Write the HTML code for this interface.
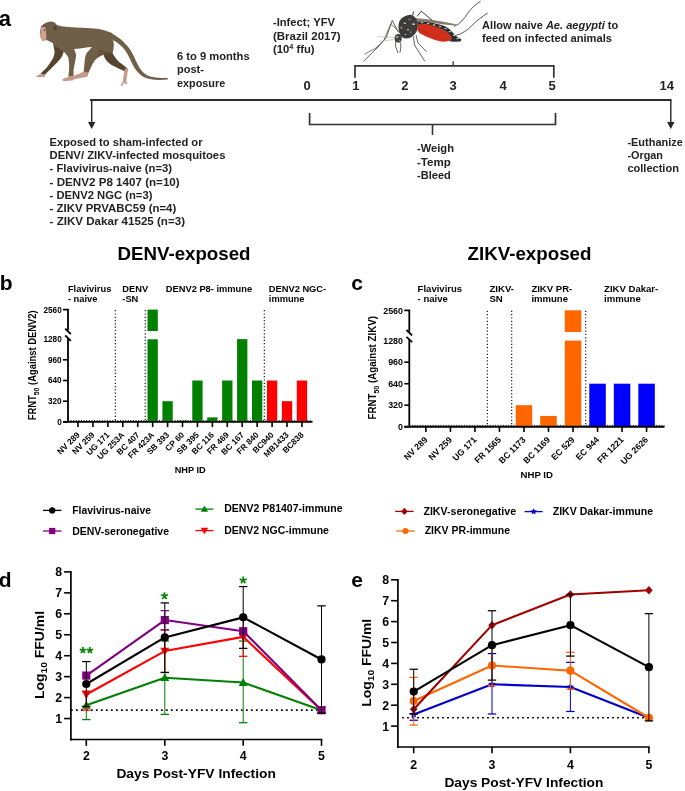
<!DOCTYPE html>
<html><head><meta charset="utf-8"><style>
html,body{margin:0;padding:0;background:#fff;}
svg{display:block;will-change:transform;}
text{font-family:"Liberation Sans",sans-serif;}
</style></head><body>
<svg width="685" height="791" viewBox="0 0 685 791">
<path d="M103.5,53 L112.1,52.3 C114,56 117,60.5 120,62.8 C123,65 126,67 128.2,69.4 L125.3,71.5 C121,69.5 116,67.5 112,65.3 C108,62.5 105,59.5 103.9,56 Z" fill="#56442f"/>
<path d="M125,68.3 L128.2,69.2 C127.5,73 126.6,78 126.4,82 L127.4,84 L125.8,84.3 L124.3,82.6 L122,85.9 L120.6,85.6 L122.8,81.5 C123.4,77 124,72 125,68.3 Z" fill="#c49a89"/>
<path d="M110,32.5 C117,35.5 123,41 127.8,46.4 C131,50 133.5,55 136,61 C139,67.5 142,72.5 147,75.2 C152,77.5 158,77.9 167.8,78 L167.8,79.5 C158,80.3 150,80 144.8,77.6 C139,74.6 135.5,70 132.6,64.5 C130,59 128,54 124.5,49.5 C121,45 117,42 113,40.2 Z" fill="#6f5e48"/>
<path d="M93.2,45.6 L113,47 L113,52.1 C108,53.3 105.5,54 103.9,54.6 C100.5,55.8 97.5,57.5 95.7,59.5 C93.6,62 92.5,64 91.6,66.1 C90.2,69 89,71.5 87.8,74.3 L83.6,73.2 C84,69 84.4,64 85,57.9 C85.8,54.5 86.8,52.5 88.3,51.3 Z" fill="#6f5e48"/>
<path d="M100,46.5 C106,47.3 110.5,48.5 113,50.5 L112.6,52.6 C108,53.4 105.5,54 103.9,54.6 C101,55.4 99,56.5 97.2,57.8 C98,54 99,50 100,46.5 Z" fill="#65533e"/>
<path d="M84,71.6 L87.8,72.6 L88.2,75.4 L86.7,77 C82,77.8 77,78.8 73.5,79.3 L72.6,77.6 C74,75.6 76,74.6 78,74.3 Z" fill="#c49a89"/>
<path d="M53,43 L64.2,50 C63.3,53.8 62.3,56 61.3,57.5 C59.6,60 58.2,61.5 56.9,62.8 C54.5,65.4 52.2,67.5 49.9,69.8 C48,71.6 46.5,73.2 44.9,74.9 L40.3,74.3 C42,72 44,70 46.4,68 C49,64.6 51,61.6 52.5,59.3 C53.8,56.5 54.5,54 54.6,51.4 Z" fill="#56442f"/>
<path d="M40.2,73.9 L45.2,74.5 L44.8,76.9 L40.3,77.3 L36.1,76.9 L36.6,75.9 Z" fill="#c49a89"/>
<path d="M50.8,21.4 C53.5,21.4 55.8,23 56.9,25 L61.3,26.3 C66,27 71,27.4 76.2,27.6 C83,28 90,28.3 97.3,28.7 C101,29.3 104,30 105.6,30.8 C108,31.5 110.5,32.3 112.1,33.2 L113,40.2 C113.6,42 114,44 113.8,45.6 C113.7,47.5 113.5,49 113.4,49.7 L112.1,52.8 C106,52 100,49 91,47 C87,47.3 85,47.5 84,47.9 C81,48.2 78,48.5 76.2,48.8 L63.9,51.4 L53.4,45 L53.4,43.4 C51,42 48.5,40.8 46.4,39.9 L42.4,40.8 L39.8,35.5 C40,32 40.5,29 41.1,26.3 C43.5,23.5 47,21.6 50.8,21.4 Z" fill="#6f5e48"/>
<path d="M63.5,50.6 L73.5,48.3 C75,51 76,53.5 76.2,55.8 C75.8,58 75.3,60.5 74.8,62.8 C74.3,65.5 73.8,68 73.5,70.6 L73.6,76.8 L68.3,76.6 C68.8,73 69.2,69.5 69.2,66.3 C69,63 68.8,60 68.3,57.5 C67,55 65.5,53 63.5,51.4 Z" fill="#6f5e48"/>
<path d="M68.3,76.3 L73.6,76.3 L73.9,80.3 L63.9,81.3 L62,79.9 C63.5,78.3 65.5,77.5 68.3,77.2 Z" fill="#c49a89"/>
<path d="M41.4,27.3 C43,26.9 44.5,27.1 45.6,28 C46,31 46.3,34.5 46.4,39.4 L42.6,40.8 C41.6,39.5 41,38.2 40.5,37.1 L39.8,35.5 C40,34.1 40.4,33.1 40.7,32.3 C40.8,30.5 41,28.9 41.4,27.3 Z" fill="#cfa392"/>
<circle cx="44.3" cy="30.3" r="0.75" fill="#3a2a20"/>
<ellipse cx="55.1" cy="28.3" rx="1.7" ry="2.8" fill="#56452f"/>
<path d="M454,26.5 C460,24 464,19 468,13 C472,7.5 476,4 480.5,1.3" fill="none" stroke="#3a3a3a" stroke-width="0.85"/>
<path d="M455,35.8 C462,34 467,30.5 472,25.5 C477,20.5 482,16.5 487.8,13" fill="none" stroke="#3a3a3a" stroke-width="0.85"/>
<path d="M398.4,32.4 L392.3,20.5 L386.2,37.7 L378,47 L363.5,61.3" fill="none" stroke="#3a3a3a" stroke-width="0.8"/>
<path d="M404.3,37.1 L390.8,23.7 L384,40 L376,48 L364.4,54.3" fill="none" stroke="#6b5a4a" stroke-width="0.8"/>
<path d="M394,37.5 L377,36.6 M394,39.5 L379,41.5" fill="none" stroke="#aaa" stroke-width="0.6"/>
<path d="M396,39 L395.5,46 L398,53 M399,39 L401,46 L400,52.5" fill="none" stroke="#3a3a3a" stroke-width="0.8"/>
<path d="M413.5,36 L414.5,45 L424.8,61.3 M416,35 L418,43 L426.6,51.7" fill="none" stroke="#3a3a3a" stroke-width="0.8"/>
<path d="M412.8,15.5 L413.4,11.5 M417.2,16.4 L421.2,11.2 L433.3,21.2" fill="none" stroke="#3a3a3a" stroke-width="1.0"/>
<path d="M417,21.5 C424,20.5 430,22 434.1,23.3 C438,24.3 441.5,25 444.5,26 C447,27.5 449,28.5 450.2,29.8 C452,31.5 453.5,33.5 455,35.2 C457,37 459,38.3 461.6,39.5 L460.5,41.5 L454,41.8 L449,41.3 L451.5,38.6 C451,37.3 450.5,36.5 450,35.7 C448.5,33.5 446,31.8 442,29.6 C438,27.8 433,26.3 426,24.6 L418,25 Z" fill="#2f2f2f"/>
<ellipse cx="422" cy="22.6" rx="1.3" ry="0.7" fill="#d8d8d8"/>
<ellipse cx="428" cy="23.6" rx="1.3" ry="0.7" fill="#d8d8d8"/>
<ellipse cx="434" cy="25" rx="1.3" ry="0.7" fill="#d8d8d8"/>
<ellipse cx="440" cy="26.6" rx="1.3" ry="0.7" fill="#d8d8d8"/>
<ellipse cx="445.5" cy="28.6" rx="1.3" ry="0.7" fill="#d8d8d8"/>
<ellipse cx="450" cy="31.6" rx="1.3" ry="0.7" fill="#d8d8d8"/>
<ellipse cx="454" cy="35.4" rx="1.3" ry="0.7" fill="#d8d8d8"/>
<ellipse cx="457.5" cy="38.6" rx="1.3" ry="0.7" fill="#d8d8d8"/>
<path d="M418,24.6 C421,24 424,23.9 426,24 C429,24.5 431.5,25.3 434.1,26.2 C437,27.2 440,28.2 442.1,29.4 C444.5,30.6 446.5,31.5 447.8,32.6 C449,33.6 449.8,34.6 450.3,35.8 C451,37 451.5,38 451.8,38.9 C450.5,40 449.2,40.8 447.8,41.3 C446,41.7 444,41.8 442.1,41.7 C439,41.2 436.5,40.5 434.1,39.7 C431,38.5 428.5,37.6 426,36.5 C423.5,35.4 421.5,34.4 419.6,33.3 C418.5,32 417.6,30.5 417.2,29.3 C417.2,27.5 417.5,26 418,24.6 Z" fill="#d1301d"/>
<path d="M420,30 C428,33 436,37 447,40" fill="none" stroke="#b02418" stroke-width="0.5"/>
<path d="M414.8,18 L430,19.5 L445,22 L456,24.3 L455.5,25.6 L444,24.6 L430,22.5 L415,20.6 Z" fill="#7d6e60" opacity="0.9"/>
<path d="M399.5,21 C401.5,17.5 405.5,15.2 409.8,14.8 C413.5,15 416.2,17.5 417.4,21.5 C418.2,25 417.8,28.8 416.6,31.5 C414.8,34.8 412.2,37 409.5,38 C407,38.8 404.5,38.6 402.5,37.5 C400.2,35.5 398.8,32 398.5,28.5 C398.4,25.5 398.7,23 399.5,21 Z" fill="#3b3b3b"/>
<ellipse cx="404.8" cy="23.2" rx="1.3" ry="0.8" fill="#d0d0d0"/>
<ellipse cx="413.6" cy="24.2" rx="1.4" ry="0.9" fill="#d0d0d0"/>
<ellipse cx="408" cy="29.8" rx="1.0" ry="0.7" fill="#d0d0d0"/>
<ellipse cx="401.3" cy="27.8" rx="0.6" ry="1.0" fill="#d0d0d0"/>
<ellipse cx="410.8" cy="32" rx="0.9" ry="0.6" fill="#d0d0d0"/>
<ellipse cx="405.5" cy="34.5" rx="0.8" ry="0.6" fill="#d0d0d0"/>
<ellipse cx="409.5" cy="19.5" rx="0.8" ry="0.5" fill="#d0d0d0"/>
<path d="M410.6,16 L411,37.5" stroke="#5a4a3c" stroke-width="0.6"/>
<ellipse cx="398.2" cy="38.3" rx="3.6" ry="4.3" fill="#404040"/>
<ellipse cx="397.2" cy="37" rx="1.2" ry="1.0" fill="#b8b8b8"/>
<ellipse cx="399.5" cy="40.5" rx="0.8" ry="0.6" fill="#9a9a9a"/>
<text x="-1.2" y="25.8" font-size="22" font-weight="bold" text-anchor="start" fill="#000" >a</text>
<line x1="90" y1="100.0" x2="671.5" y2="100.0" stroke="#2c2c2c" stroke-width="2.0" />
<line x1="91.7" y1="100" x2="91.7" y2="123" stroke="#262626" stroke-width="1.4" />
<polygon points="88,122 95.4,122 91.7,129" fill="#262626"/>
<line x1="670.8" y1="100" x2="670.8" y2="123" stroke="#262626" stroke-width="1.4" />
<polygon points="667.1,122 674.5,122 670.8,129" fill="#262626"/>
<polyline points="355,77.8 355,65.9 553.8,65.9 553.8,77.8" fill="none" stroke="#333" stroke-width="1.7"/>
<line x1="453.2" y1="61.3" x2="453.2" y2="65.8" stroke="#333" stroke-width="1.3" />
<polyline points="309.6,112.9 309.6,124.5 555.5,124.5 555.5,112.9" fill="none" stroke="#333" stroke-width="1.7"/>
<line x1="432.5" y1="124.5" x2="432.5" y2="135" stroke="#333" stroke-width="1.6" />
<text x="307" y="89.6" font-size="13" font-weight="bold" text-anchor="middle" fill="#222" >0</text>
<text x="355.8" y="89.6" font-size="13" font-weight="bold" text-anchor="middle" fill="#222" >1</text>
<text x="404.8" y="89.6" font-size="13" font-weight="bold" text-anchor="middle" fill="#222" >2</text>
<text x="453.2" y="89.6" font-size="13" font-weight="bold" text-anchor="middle" fill="#222" >3</text>
<text x="503" y="89.6" font-size="13" font-weight="bold" text-anchor="middle" fill="#222" >4</text>
<text x="552" y="89.6" font-size="13" font-weight="bold" text-anchor="middle" fill="#222" >5</text>
<text x="666.7" y="89.6" font-size="13" font-weight="bold" text-anchor="middle" fill="#222" >14</text>
<text x="177" y="59.9" font-size="10.8" font-weight="bold" text-anchor="start" fill="#222" textLength="72.6" lengthAdjust="spacingAndGlyphs" >6 to 9 months</text>
<text x="177" y="73.3" font-size="10.8" font-weight="bold" text-anchor="start" fill="#222" textLength="26.9" lengthAdjust="spacingAndGlyphs" >post-</text>
<text x="177" y="86.9" font-size="10.8" font-weight="bold" text-anchor="start" fill="#222" textLength="48.2" lengthAdjust="spacingAndGlyphs" >exposure</text>
<text x="272.9" y="26.4" font-size="10.8" font-weight="bold" text-anchor="start" fill="#222" textLength="62.2" lengthAdjust="spacingAndGlyphs" >-Infect; YFV</text>
<text x="272.9" y="39.8" font-size="10.8" font-weight="bold" text-anchor="start" fill="#222" textLength="67.8" lengthAdjust="spacingAndGlyphs" >(Brazil 2017)</text>
<text x="272.9" y="53.2" font-size="10.8" font-weight="bold" fill="#222" textLength="41.7" lengthAdjust="spacingAndGlyphs">(10<tspan font-size="7" dy="-4.3">4</tspan><tspan dy="4.3"> ffu)</tspan></text>
<text x="482.1" y="28.7" font-size="10.8" font-weight="bold" fill="#222" textLength="136.2" lengthAdjust="spacingAndGlyphs">Allow naive <tspan font-style="italic">Ae. aegypti</tspan> to</text>
<text x="482.1" y="42" font-size="10.8" font-weight="bold" text-anchor="start" fill="#222" textLength="129.9" lengthAdjust="spacingAndGlyphs" >feed on infected animals</text>
<text x="417" y="152.4" font-size="10.8" font-weight="bold" text-anchor="start" fill="#222" textLength="37" lengthAdjust="spacingAndGlyphs" >-Weigh</text>
<text x="417" y="165.85" font-size="10.8" font-weight="bold" text-anchor="start" fill="#222" textLength="33.8" lengthAdjust="spacingAndGlyphs" >-Temp</text>
<text x="417" y="179.3" font-size="10.8" font-weight="bold" text-anchor="start" fill="#222" textLength="33.8" lengthAdjust="spacingAndGlyphs" >-Bleed</text>
<text x="627.4" y="145.5" font-size="10.8" font-weight="bold" text-anchor="start" fill="#222" textLength="55.4" lengthAdjust="spacingAndGlyphs" >-Euthanize</text>
<text x="627.4" y="158.8" font-size="10.8" font-weight="bold" text-anchor="start" fill="#222" textLength="35.5" lengthAdjust="spacingAndGlyphs" >-Organ</text>
<text x="627.4" y="172.4" font-size="10.8" font-weight="bold" text-anchor="start" fill="#222" textLength="51.5" lengthAdjust="spacingAndGlyphs" >collection</text>
<text x="49.6" y="145.8" font-size="10.8" font-weight="bold" text-anchor="start" fill="#222" textLength="152.9" lengthAdjust="spacingAndGlyphs" >Exposed to sham-infected or</text>
<text x="49.6" y="159.05" font-size="10.8" font-weight="bold" text-anchor="start" fill="#222" textLength="175.8" lengthAdjust="spacingAndGlyphs" >DENV/ ZIKV-infected mosquitoes</text>
<text x="49.6" y="172.3" font-size="10.8" font-weight="bold" text-anchor="start" fill="#222" textLength="122.5" lengthAdjust="spacingAndGlyphs" >- Flavivirus-naive (n=3)</text>
<text x="49.6" y="185.55" font-size="10.8" font-weight="bold" text-anchor="start" fill="#222" textLength="130.1" lengthAdjust="spacingAndGlyphs" >- DENV2 P8 1407 (n=10)</text>
<text x="49.6" y="198.8" font-size="10.8" font-weight="bold" text-anchor="start" fill="#222" textLength="102.8" lengthAdjust="spacingAndGlyphs" >- DENV2 NGC (n=3)</text>
<text x="49.6" y="212.05" font-size="10.8" font-weight="bold" text-anchor="start" fill="#222" textLength="126.6" lengthAdjust="spacingAndGlyphs" >- ZIKV PRVABC59 (n=4)</text>
<text x="49.6" y="225.3" font-size="10.8" font-weight="bold" text-anchor="start" fill="#222" textLength="135.4" lengthAdjust="spacingAndGlyphs" >- ZIKV Dakar 41525 (n=3)</text>
<text x="117.5" y="260" font-size="18" font-weight="bold" text-anchor="start" fill="#000" textLength="133" lengthAdjust="spacingAndGlyphs" >DENV-exposed</text>
<text x="-0.3" y="289.9" font-size="21" font-weight="bold" text-anchor="start" fill="#000" >b</text>
<text x="67.89999999999999" y="291.5" font-size="9.3" font-weight="bold" text-anchor="start" fill="#000" >Flavivirus</text>
<text x="67.89999999999999" y="302.3" font-size="9.3" font-weight="bold" text-anchor="start" fill="#000" >- naive</text>
<text x="122.3" y="291.5" font-size="9.3" font-weight="bold" text-anchor="start" fill="#000" >DENV</text>
<text x="122.3" y="302.3" font-size="9.3" font-weight="bold" text-anchor="start" fill="#000" >-SN</text>
<text x="165.79999999999998" y="291.5" font-size="9.3" font-weight="bold" text-anchor="start" fill="#000" >DENV2 P8- immune</text>
<text x="268.8" y="291.5" font-size="9.3" font-weight="bold" text-anchor="start" fill="#000" >DENV2 NGC-</text>
<text x="268.8" y="302.3" font-size="9.3" font-weight="bold" text-anchor="start" fill="#000" >immune</text>
<line x1="68" y1="420.59999999999997" x2="312.5" y2="420.59999999999997" stroke="#000" stroke-width="1.0" stroke-dasharray="1,1.6"/>
<rect x="147.50" y="309.60" width="10.3" height="21.40" fill="#008000"/>
<rect x="147.50" y="339.30" width="10.3" height="82.60" fill="#008000"/>
<rect x="162.43" y="401.20" width="10.3" height="20.70" fill="#008000"/>
<rect x="177.36" y="420.61" width="10.3" height="1.29" fill="#008000"/>
<rect x="192.29" y="380.50" width="10.3" height="41.40" fill="#008000"/>
<rect x="207.22" y="417.37" width="10.3" height="4.53" fill="#008000"/>
<rect x="222.15" y="380.50" width="10.3" height="41.40" fill="#008000"/>
<rect x="237.08" y="339.10" width="10.3" height="82.80" fill="#008000"/>
<rect x="252.01" y="380.50" width="10.3" height="41.40" fill="#008000"/>
<rect x="266.94" y="380.50" width="10.3" height="41.40" fill="#ff0000"/>
<rect x="281.87" y="401.20" width="10.3" height="20.70" fill="#ff0000"/>
<rect x="296.80" y="380.50" width="10.3" height="41.40" fill="#ff0000"/>
<line x1="115.3" y1="310.1" x2="115.3" y2="421.9" stroke="#000" stroke-width="1.1" stroke-dasharray="1.2,2.1"/>
<line x1="145.2" y1="310.1" x2="145.2" y2="421.9" stroke="#000" stroke-width="1.1" stroke-dasharray="1.2,2.1"/>
<line x1="264.3" y1="310.1" x2="264.3" y2="421.9" stroke="#000" stroke-width="1.1" stroke-dasharray="1.2,2.1"/>
<polyline points="63,309.6 68,309.6 68,330.20000000000005" fill="none" stroke="#000" stroke-width="1.8"/>
<line x1="65.2" y1="328.6" x2="70.8" y2="334.0" stroke="#000" stroke-width="1.8" />
<line x1="65.2" y1="335.40000000000003" x2="70.8" y2="340.8" stroke="#000" stroke-width="1.8" />
<line x1="68" y1="338.1" x2="68" y2="421.9" stroke="#000" stroke-width="1.8" />
<line x1="63" y1="421.9" x2="68" y2="421.9" stroke="#000" stroke-width="1.6" />
<line x1="63" y1="401.2" x2="68" y2="401.2" stroke="#000" stroke-width="1.6" />
<line x1="63" y1="380.5" x2="68" y2="380.5" stroke="#000" stroke-width="1.6" />
<line x1="63" y1="359.79999999999995" x2="68" y2="359.79999999999995" stroke="#000" stroke-width="1.6" />
<line x1="63" y1="421.9" x2="312.5" y2="421.9" stroke="#000" stroke-width="1.9" />
<line x1="78.0" y1="421.9" x2="78.0" y2="427.09999999999997" stroke="#000" stroke-width="1.6" />
<line x1="92.93" y1="421.9" x2="92.93" y2="427.09999999999997" stroke="#000" stroke-width="1.6" />
<line x1="107.86" y1="421.9" x2="107.86" y2="427.09999999999997" stroke="#000" stroke-width="1.6" />
<line x1="122.78999999999999" y1="421.9" x2="122.78999999999999" y2="427.09999999999997" stroke="#000" stroke-width="1.6" />
<line x1="137.72" y1="421.9" x2="137.72" y2="427.09999999999997" stroke="#000" stroke-width="1.6" />
<line x1="152.65" y1="421.9" x2="152.65" y2="427.09999999999997" stroke="#000" stroke-width="1.6" />
<line x1="167.57999999999998" y1="421.9" x2="167.57999999999998" y2="427.09999999999997" stroke="#000" stroke-width="1.6" />
<line x1="182.51" y1="421.9" x2="182.51" y2="427.09999999999997" stroke="#000" stroke-width="1.6" />
<line x1="197.44" y1="421.9" x2="197.44" y2="427.09999999999997" stroke="#000" stroke-width="1.6" />
<line x1="212.37" y1="421.9" x2="212.37" y2="427.09999999999997" stroke="#000" stroke-width="1.6" />
<line x1="227.3" y1="421.9" x2="227.3" y2="427.09999999999997" stroke="#000" stroke-width="1.6" />
<line x1="242.23" y1="421.9" x2="242.23" y2="427.09999999999997" stroke="#000" stroke-width="1.6" />
<line x1="257.15999999999997" y1="421.9" x2="257.15999999999997" y2="427.09999999999997" stroke="#000" stroke-width="1.6" />
<line x1="272.09000000000003" y1="421.9" x2="272.09000000000003" y2="427.09999999999997" stroke="#000" stroke-width="1.6" />
<line x1="287.02" y1="421.9" x2="287.02" y2="427.09999999999997" stroke="#000" stroke-width="1.6" />
<line x1="301.95" y1="421.9" x2="301.95" y2="427.09999999999997" stroke="#000" stroke-width="1.6" />
<text x="61.7" y="312.552" font-size="8.2" font-weight="bold" text-anchor="end" fill="#000" >2560</text>
<text x="61.7" y="342.05199999999996" font-size="8.2" font-weight="bold" text-anchor="end" fill="#000" >1280</text>
<text x="61.7" y="362.75199999999995" font-size="8.2" font-weight="bold" text-anchor="end" fill="#000" >960</text>
<text x="61.7" y="383.452" font-size="8.2" font-weight="bold" text-anchor="end" fill="#000" >640</text>
<text x="61.7" y="404.152" font-size="8.2" font-weight="bold" text-anchor="end" fill="#000" >320</text>
<text x="61.7" y="424.852" font-size="8.2" font-weight="bold" text-anchor="end" fill="#000" >0</text>
<text transform="translate(36.4,365.3) rotate(-90)" text-anchor="middle" font-size="10.3" font-weight="bold" textLength="110" lengthAdjust="spacingAndGlyphs">FRNT<tspan font-size="7.5" dy="2.2">50</tspan><tspan dy="-2.2"> (Against DENV2)</tspan></text>
<text transform="translate(80.20,435.50) rotate(-45)" text-anchor="end" font-size="8.3" font-weight="bold">NV 289</text>
<text transform="translate(95.13,435.50) rotate(-45)" text-anchor="end" font-size="8.3" font-weight="bold">NV 259</text>
<text transform="translate(110.06,435.50) rotate(-45)" text-anchor="end" font-size="8.3" font-weight="bold">UG 171</text>
<text transform="translate(124.99,435.50) rotate(-45)" text-anchor="end" font-size="8.3" font-weight="bold">UG 253A</text>
<text transform="translate(139.92,435.50) rotate(-45)" text-anchor="end" font-size="8.3" font-weight="bold">BC 407</text>
<text transform="translate(154.85,435.50) rotate(-45)" text-anchor="end" font-size="8.3" font-weight="bold">FR 423A</text>
<text transform="translate(169.78,435.50) rotate(-45)" text-anchor="end" font-size="8.3" font-weight="bold">SB 393</text>
<text transform="translate(184.71,435.50) rotate(-45)" text-anchor="end" font-size="8.3" font-weight="bold">CP 60</text>
<text transform="translate(199.64,435.50) rotate(-45)" text-anchor="end" font-size="8.3" font-weight="bold">SB 395</text>
<text transform="translate(214.57,435.50) rotate(-45)" text-anchor="end" font-size="8.3" font-weight="bold">BC 116</text>
<text transform="translate(229.50,435.50) rotate(-45)" text-anchor="end" font-size="8.3" font-weight="bold">FR 469</text>
<text transform="translate(244.43,435.50) rotate(-45)" text-anchor="end" font-size="8.3" font-weight="bold">BC 167</text>
<text transform="translate(259.36,435.50) rotate(-45)" text-anchor="end" font-size="8.3" font-weight="bold">FR 840</text>
<text transform="translate(274.29,435.50) rotate(-45)" text-anchor="end" font-size="8.3" font-weight="bold">BC940</text>
<text transform="translate(289.22,435.50) rotate(-45)" text-anchor="end" font-size="8.3" font-weight="bold">MB1433</text>
<text transform="translate(304.15,435.50) rotate(-45)" text-anchor="end" font-size="8.3" font-weight="bold">BC838</text>
<text x="174.7" y="473.4" font-size="9.2" font-weight="bold" text-anchor="start" fill="#000" >NHP ID</text>
<text x="467.5" y="260" font-size="18" font-weight="bold" text-anchor="start" fill="#000" textLength="124" lengthAdjust="spacingAndGlyphs" >ZIKV-exposed</text>
<text x="351.2" y="289.9" font-size="21" font-weight="bold" text-anchor="start" fill="#000" >c</text>
<text x="417.6" y="291.5" font-size="9.55" font-weight="bold" text-anchor="start" fill="#000" >Flavivirus</text>
<text x="417.6" y="302.3" font-size="9.55" font-weight="bold" text-anchor="start" fill="#000" >- naive</text>
<text x="489.5" y="291.5" font-size="9.55" font-weight="bold" text-anchor="start" fill="#000" >ZIKV-</text>
<text x="489.5" y="302.3" font-size="9.55" font-weight="bold" text-anchor="start" fill="#000" >SN</text>
<text x="531.4" y="291.5" font-size="9.55" font-weight="bold" text-anchor="start" fill="#000" >ZIKV PR-</text>
<text x="531.4" y="302.3" font-size="9.55" font-weight="bold" text-anchor="start" fill="#000" >immune</text>
<text x="604.1" y="291.5" font-size="9.55" font-weight="bold" text-anchor="start" fill="#000" >ZIKV Dakar-</text>
<text x="604.1" y="302.3" font-size="9.55" font-weight="bold" text-anchor="start" fill="#000" >immune</text>
<line x1="409.3" y1="425.4" x2="664.5" y2="425.4" stroke="#000" stroke-width="1.0" stroke-dasharray="1,1.6"/>
<rect x="515.73" y="405.20" width="16.5" height="21.50" fill="#ff6600"/>
<rect x="540.25" y="415.95" width="16.5" height="10.75" fill="#ff6600"/>
<rect x="564.77" y="310.30" width="16.5" height="21.70" fill="#ff6600"/>
<rect x="564.77" y="340.60" width="16.5" height="86.10" fill="#ff6600"/>
<rect x="589.29" y="383.70" width="16.5" height="43.00" fill="#0000ff"/>
<rect x="613.81" y="383.70" width="16.5" height="43.00" fill="#0000ff"/>
<rect x="638.33" y="383.70" width="16.5" height="43.00" fill="#0000ff"/>
<line x1="487.3" y1="310.8" x2="487.3" y2="426.7" stroke="#000" stroke-width="1.1" stroke-dasharray="1.2,2.1"/>
<line x1="511.7" y1="310.8" x2="511.7" y2="426.7" stroke="#000" stroke-width="1.1" stroke-dasharray="1.2,2.1"/>
<line x1="585.7" y1="310.8" x2="585.7" y2="426.7" stroke="#000" stroke-width="1.1" stroke-dasharray="1.2,2.1"/>
<polyline points="404.3,310.3 409.3,310.3 409.3,331.6" fill="none" stroke="#000" stroke-width="1.8"/>
<line x1="406.5" y1="330.0" x2="412.1" y2="335.4" stroke="#000" stroke-width="1.8" />
<line x1="406.5" y1="336.8" x2="412.1" y2="342.2" stroke="#000" stroke-width="1.8" />
<line x1="409.3" y1="339.5" x2="409.3" y2="426.7" stroke="#000" stroke-width="1.8" />
<line x1="404.3" y1="426.7" x2="409.3" y2="426.7" stroke="#000" stroke-width="1.6" />
<line x1="404.3" y1="405.2" x2="409.3" y2="405.2" stroke="#000" stroke-width="1.6" />
<line x1="404.3" y1="383.7" x2="409.3" y2="383.7" stroke="#000" stroke-width="1.6" />
<line x1="404.3" y1="362.2" x2="409.3" y2="362.2" stroke="#000" stroke-width="1.6" />
<line x1="404.3" y1="426.7" x2="664.5" y2="426.7" stroke="#000" stroke-width="1.9" />
<line x1="425.9" y1="426.7" x2="425.9" y2="431.9" stroke="#000" stroke-width="1.6" />
<line x1="450.41999999999996" y1="426.7" x2="450.41999999999996" y2="431.9" stroke="#000" stroke-width="1.6" />
<line x1="474.94" y1="426.7" x2="474.94" y2="431.9" stroke="#000" stroke-width="1.6" />
<line x1="499.46" y1="426.7" x2="499.46" y2="431.9" stroke="#000" stroke-width="1.6" />
<line x1="523.98" y1="426.7" x2="523.98" y2="431.9" stroke="#000" stroke-width="1.6" />
<line x1="548.5" y1="426.7" x2="548.5" y2="431.9" stroke="#000" stroke-width="1.6" />
<line x1="573.02" y1="426.7" x2="573.02" y2="431.9" stroke="#000" stroke-width="1.6" />
<line x1="597.54" y1="426.7" x2="597.54" y2="431.9" stroke="#000" stroke-width="1.6" />
<line x1="622.06" y1="426.7" x2="622.06" y2="431.9" stroke="#000" stroke-width="1.6" />
<line x1="646.5799999999999" y1="426.7" x2="646.5799999999999" y2="431.9" stroke="#000" stroke-width="1.6" />
<text x="403.0" y="313.504" font-size="8.9" font-weight="bold" text-anchor="end" fill="#000" >2560</text>
<text x="403.0" y="343.904" font-size="8.9" font-weight="bold" text-anchor="end" fill="#000" >1280</text>
<text x="403.0" y="365.404" font-size="8.9" font-weight="bold" text-anchor="end" fill="#000" >960</text>
<text x="403.0" y="386.904" font-size="8.9" font-weight="bold" text-anchor="end" fill="#000" >640</text>
<text x="403.0" y="408.404" font-size="8.9" font-weight="bold" text-anchor="end" fill="#000" >320</text>
<text x="403.0" y="429.904" font-size="8.9" font-weight="bold" text-anchor="end" fill="#000" >0</text>
<text transform="translate(376.4,367.8) rotate(-90)" text-anchor="middle" font-size="10.3" font-weight="bold" textLength="103.5" lengthAdjust="spacingAndGlyphs">FRNT<tspan font-size="7.5" dy="2.2">50</tspan><tspan dy="-2.2"> (Against ZIKV)</tspan></text>
<text transform="translate(428.10,440.30) rotate(-45)" text-anchor="end" font-size="8.7" font-weight="bold">NV 289</text>
<text transform="translate(452.62,440.30) rotate(-45)" text-anchor="end" font-size="8.7" font-weight="bold">NV 259</text>
<text transform="translate(477.14,440.30) rotate(-45)" text-anchor="end" font-size="8.7" font-weight="bold">UG 171</text>
<text transform="translate(501.66,440.30) rotate(-45)" text-anchor="end" font-size="8.7" font-weight="bold">FR 1565</text>
<text transform="translate(526.18,440.30) rotate(-45)" text-anchor="end" font-size="8.7" font-weight="bold">BC 1173</text>
<text transform="translate(550.70,440.30) rotate(-45)" text-anchor="end" font-size="8.7" font-weight="bold">BC 1169</text>
<text transform="translate(575.22,440.30) rotate(-45)" text-anchor="end" font-size="8.7" font-weight="bold">EC 529</text>
<text transform="translate(599.74,440.30) rotate(-45)" text-anchor="end" font-size="8.7" font-weight="bold">EC 944</text>
<text transform="translate(624.26,440.30) rotate(-45)" text-anchor="end" font-size="8.7" font-weight="bold">FR 1221</text>
<text transform="translate(648.78,440.30) rotate(-45)" text-anchor="end" font-size="8.7" font-weight="bold">UG 2626</text>
<text x="520.6" y="478.4" font-size="9.6" font-weight="bold" text-anchor="start" fill="#000" >NHP ID</text>
<line x1="42.9" y1="510.4" x2="61.5" y2="510.4" stroke="#000" stroke-width="1.3" />
<circle cx="52.2" cy="510.4" r="3.12" fill="#000"/>
<text x="72.2" y="514.1" font-size="10.4" font-weight="bold" text-anchor="start" fill="#000" textLength="78.8" lengthAdjust="spacingAndGlyphs" >Flavivirus-naive</text>
<line x1="42.9" y1="531" x2="61.5" y2="531" stroke="#800080" stroke-width="1.3" />
<rect x="49.08" y="527.88" width="6.23" height="6.23" fill="#800080"/>
<text x="72.2" y="534.7" font-size="10.4" font-weight="bold" text-anchor="start" fill="#000" textLength="96.8" lengthAdjust="spacingAndGlyphs" >DENV-seronegative</text>
<line x1="195.4" y1="509.1" x2="213.5" y2="509.1" stroke="#008000" stroke-width="1.3" />
<polygon points="204.45,505.41 208.14,511.87 200.76,511.87" fill="#008000"/>
<text x="224.2" y="512.4" font-size="10.4" font-weight="bold" text-anchor="start" fill="#000" textLength="118.3" lengthAdjust="spacingAndGlyphs" >DENV2 P81407-immune</text>
<line x1="195.4" y1="530.6" x2="213.5" y2="530.6" stroke="#ff0000" stroke-width="1.3" />
<polygon points="204.45,534.29 208.14,527.83 200.76,527.83" fill="#ff0000"/>
<text x="224.2" y="534.2" font-size="10.4" font-weight="bold" text-anchor="start" fill="#000" textLength="104.7" lengthAdjust="spacingAndGlyphs" >DENV2 NGC-immune</text>
<line x1="395.2" y1="511.4" x2="413.6" y2="511.4" stroke="#a00000" stroke-width="1.3" />
<polygon points="404.40,507.75 407.69,511.40 404.40,515.05 401.11,511.40" fill="#a00000"/>
<text x="423.4" y="514.7" font-size="10.4" font-weight="bold" text-anchor="start" fill="#000" textLength="92.7" lengthAdjust="spacingAndGlyphs" >ZIKV-seronegative</text>
<line x1="524.6" y1="511.6" x2="542.7" y2="511.6" stroke="#0000c8" stroke-width="1.3" />
<polygon points="533.65,508.18 534.61,510.27 536.90,510.54 535.21,512.11 535.66,514.37 533.65,513.24 531.64,514.37 532.09,512.11 530.40,510.54 532.69,510.27" fill="#0000c8"/>
<text x="552.7" y="514.9" font-size="10.4" font-weight="bold" text-anchor="start" fill="#000" textLength="100.4" lengthAdjust="spacingAndGlyphs" >ZIKV Dakar-immune</text>
<line x1="396.3" y1="531" x2="414.7" y2="531" stroke="#ff6600" stroke-width="1.3" />
<circle cx="405.5" cy="531" r="3.03" fill="#ff6600"/>
<text x="424.7" y="534.4" font-size="10.4" font-weight="bold" text-anchor="start" fill="#000" textLength="85.3" lengthAdjust="spacingAndGlyphs" >ZIKV PR-immune</text>
<text x="-1.2" y="586.6" font-size="21" font-weight="bold" text-anchor="start" fill="#000" >d</text>
<line x1="70.9" y1="710.17" x2="321.5" y2="710.17" stroke="#000" stroke-width="1.6" stroke-dasharray="1.8,3.2"/>
<line x1="70.9" y1="571.0" x2="70.9" y2="740.4" stroke="#000" stroke-width="1.7" />
<line x1="70.10000000000001" y1="739.5" x2="322.3" y2="739.5" stroke="#000" stroke-width="1.7" />
<line x1="64.10000000000001" y1="718.55" x2="70.9" y2="718.55" stroke="#000" stroke-width="1.6" />
<text x="62.10000000000001" y="722.9499999999999" font-size="12.3" font-weight="bold" text-anchor="end" fill="#000" >1</text>
<line x1="64.10000000000001" y1="697.5999999999999" x2="70.9" y2="697.5999999999999" stroke="#000" stroke-width="1.6" />
<text x="62.10000000000001" y="701.9999999999999" font-size="12.3" font-weight="bold" text-anchor="end" fill="#000" >2</text>
<line x1="64.10000000000001" y1="676.65" x2="70.9" y2="676.65" stroke="#000" stroke-width="1.6" />
<text x="62.10000000000001" y="681.05" font-size="12.3" font-weight="bold" text-anchor="end" fill="#000" >3</text>
<line x1="64.10000000000001" y1="655.6999999999999" x2="70.9" y2="655.6999999999999" stroke="#000" stroke-width="1.6" />
<text x="62.10000000000001" y="660.0999999999999" font-size="12.3" font-weight="bold" text-anchor="end" fill="#000" >4</text>
<line x1="64.10000000000001" y1="634.75" x2="70.9" y2="634.75" stroke="#000" stroke-width="1.6" />
<text x="62.10000000000001" y="639.15" font-size="12.3" font-weight="bold" text-anchor="end" fill="#000" >5</text>
<line x1="64.10000000000001" y1="613.8" x2="70.9" y2="613.8" stroke="#000" stroke-width="1.6" />
<text x="62.10000000000001" y="618.1999999999999" font-size="12.3" font-weight="bold" text-anchor="end" fill="#000" >6</text>
<line x1="64.10000000000001" y1="592.85" x2="70.9" y2="592.85" stroke="#000" stroke-width="1.6" />
<text x="62.10000000000001" y="597.25" font-size="12.3" font-weight="bold" text-anchor="end" fill="#000" >7</text>
<line x1="64.10000000000001" y1="571.9" x2="70.9" y2="571.9" stroke="#000" stroke-width="1.6" />
<text x="62.10000000000001" y="576.3" font-size="12.3" font-weight="bold" text-anchor="end" fill="#000" >8</text>
<line x1="86.3" y1="739.5" x2="86.3" y2="745.8" stroke="#000" stroke-width="1.6" />
<text x="86.3" y="759.5" font-size="12.3" font-weight="bold" text-anchor="middle" fill="#000" >2</text>
<line x1="164.8" y1="739.5" x2="164.8" y2="745.8" stroke="#000" stroke-width="1.6" />
<text x="164.8" y="759.5" font-size="12.3" font-weight="bold" text-anchor="middle" fill="#000" >3</text>
<line x1="243.2" y1="739.5" x2="243.2" y2="745.8" stroke="#000" stroke-width="1.6" />
<text x="243.2" y="759.5" font-size="12.3" font-weight="bold" text-anchor="middle" fill="#000" >4</text>
<line x1="321.5" y1="739.5" x2="321.5" y2="745.8" stroke="#000" stroke-width="1.6" />
<text x="321.5" y="759.5" font-size="12.3" font-weight="bold" text-anchor="middle" fill="#000" >5</text>
<text x="116.4" y="778.2" font-size="13.4" font-weight="bold" text-anchor="start" fill="#000" textLength="159.5" lengthAdjust="spacingAndGlyphs" >Days Post-YFV Infection</text>
<text transform="translate(43.5,655) rotate(-90)" text-anchor="middle" font-size="12.8" font-weight="bold" textLength="88" lengthAdjust="spacingAndGlyphs">Log<tspan font-size="9.5" dy="3">10</tspan><tspan dy="-3"> FFU/ml</tspan></text>
<line x1="86.3" y1="691.3149999999999" x2="86.3" y2="719.5975" stroke="#008000" stroke-width="1.0" />
<line x1="82.1" y1="691.3149999999999" x2="90.5" y2="691.3149999999999" stroke="#008000" stroke-width="1.25" />
<line x1="82.1" y1="719.5975" x2="90.5" y2="719.5975" stroke="#008000" stroke-width="1.25" />
<line x1="164.8" y1="641.035" x2="164.8" y2="714.3599999999999" stroke="#008000" stroke-width="1.0" />
<line x1="160.60000000000002" y1="641.035" x2="169.0" y2="641.035" stroke="#008000" stroke-width="1.25" />
<line x1="160.60000000000002" y1="714.3599999999999" x2="169.0" y2="714.3599999999999" stroke="#008000" stroke-width="1.25" />
<line x1="243.2" y1="641.035" x2="243.2" y2="722.74" stroke="#008000" stroke-width="1.0" />
<line x1="239.0" y1="641.035" x2="247.39999999999998" y2="641.035" stroke="#008000" stroke-width="1.25" />
<line x1="239.0" y1="722.74" x2="247.39999999999998" y2="722.74" stroke="#008000" stroke-width="1.25" />
<polyline points="86.30,705.35 164.80,677.70 243.20,682.52 321.50,710.17" fill="none" stroke="#008000" stroke-width="2.1" stroke-linejoin="round"/>
<polygon points="86.30,700.85 90.80,708.73 81.80,708.73" fill="#008000"/>
<polygon points="164.80,673.20 169.30,681.07 160.30,681.07" fill="#008000"/>
<polygon points="243.20,678.02 247.70,685.89 238.70,685.89" fill="#008000"/>
<polygon points="321.50,705.67 326.00,713.54 317.00,713.54" fill="#008000"/>
<line x1="86.3" y1="691.3149999999999" x2="86.3" y2="710.17" stroke="#ff0000" stroke-width="1.0" />
<line x1="82.1" y1="691.3149999999999" x2="90.5" y2="691.3149999999999" stroke="#ff0000" stroke-width="1.25" />
<line x1="82.1" y1="710.17" x2="90.5" y2="710.17" stroke="#ff0000" stroke-width="1.25" />
<line x1="164.8" y1="629.9314999999999" x2="164.8" y2="672.4599999999999" stroke="#ff0000" stroke-width="1.0" />
<line x1="160.60000000000002" y1="629.9314999999999" x2="169.0" y2="629.9314999999999" stroke="#ff0000" stroke-width="1.25" />
<line x1="160.60000000000002" y1="672.4599999999999" x2="169.0" y2="672.4599999999999" stroke="#ff0000" stroke-width="1.25" />
<line x1="243.2" y1="617.3615" x2="243.2" y2="656.3285" stroke="#ff0000" stroke-width="1.0" />
<line x1="239.0" y1="617.3615" x2="247.39999999999998" y2="617.3615" stroke="#ff0000" stroke-width="1.25" />
<line x1="239.0" y1="656.3285" x2="247.39999999999998" y2="656.3285" stroke="#ff0000" stroke-width="1.25" />
<polyline points="86.30,694.46 164.80,651.09 243.20,636.85 321.50,710.17" fill="none" stroke="#ff0000" stroke-width="2.1" stroke-linejoin="round"/>
<polygon points="86.30,698.96 90.80,691.08 81.80,691.08" fill="#ff0000"/>
<polygon points="164.80,655.59 169.30,647.72 160.30,647.72" fill="#ff0000"/>
<polygon points="243.20,641.35 247.70,633.47 238.70,633.47" fill="#ff0000"/>
<polygon points="321.50,714.67 326.00,706.79 317.00,706.79" fill="#ff0000"/>
<line x1="164.8" y1="610.6575" x2="164.8" y2="629.9314999999999" stroke="#800080" stroke-width="1.0" />
<line x1="160.60000000000002" y1="610.6575" x2="169.0" y2="610.6575" stroke="#800080" stroke-width="1.25" />
<line x1="160.60000000000002" y1="629.9314999999999" x2="169.0" y2="629.9314999999999" stroke="#800080" stroke-width="1.25" />
<polyline points="86.30,675.60 164.80,620.08 243.20,631.19 321.50,710.17" fill="none" stroke="#800080" stroke-width="2.1" stroke-linejoin="round"/>
<rect x="82.20" y="671.50" width="8.20" height="8.20" fill="#800080"/>
<rect x="160.70" y="615.98" width="8.20" height="8.20" fill="#800080"/>
<rect x="239.10" y="627.09" width="8.20" height="8.20" fill="#800080"/>
<rect x="317.40" y="706.07" width="8.20" height="8.20" fill="#800080"/>
<line x1="86.3" y1="661.5659999999999" x2="86.3" y2="706.399" stroke="#000" stroke-width="1.0" />
<line x1="82.1" y1="661.5659999999999" x2="90.5" y2="661.5659999999999" stroke="#000" stroke-width="1.25" />
<line x1="82.1" y1="706.399" x2="90.5" y2="706.399" stroke="#000" stroke-width="1.25" />
<line x1="164.8" y1="602.906" x2="164.8" y2="672.4599999999999" stroke="#000" stroke-width="1.0" />
<line x1="160.60000000000002" y1="602.906" x2="169.0" y2="602.906" stroke="#000" stroke-width="1.25" />
<line x1="160.60000000000002" y1="672.4599999999999" x2="169.0" y2="672.4599999999999" stroke="#000" stroke-width="1.25" />
<line x1="243.2" y1="586.5649999999999" x2="243.2" y2="648.3675" stroke="#000" stroke-width="1.0" />
<line x1="239.0" y1="586.5649999999999" x2="247.39999999999998" y2="586.5649999999999" stroke="#000" stroke-width="1.25" />
<line x1="239.0" y1="648.3675" x2="247.39999999999998" y2="648.3675" stroke="#000" stroke-width="1.25" />
<line x1="321.5" y1="605.8389999999999" x2="321.5" y2="713.103" stroke="#000" stroke-width="1.0" />
<line x1="317.3" y1="605.8389999999999" x2="325.7" y2="605.8389999999999" stroke="#000" stroke-width="1.25" />
<line x1="317.3" y1="713.103" x2="325.7" y2="713.103" stroke="#000" stroke-width="1.25" />
<polyline points="86.30,683.98 164.80,637.47 243.20,617.36 321.50,659.47" fill="none" stroke="#000" stroke-width="2.1" stroke-linejoin="round"/>
<circle cx="86.3" cy="683.9825" r="4.10" fill="#000"/>
<circle cx="164.8" cy="637.4735" r="4.10" fill="#000"/>
<circle cx="243.2" cy="617.3615" r="4.10" fill="#000"/>
<circle cx="321.5" cy="659.471" r="4.10" fill="#000"/>
<path d="M82.90,650.40 L82.90,647.10 M82.90,650.40 L86.04,649.38 M82.90,650.40 L84.84,653.07 M82.90,650.40 L80.96,653.07 M82.90,650.40 L79.76,649.38 " stroke="#0a8a0a" stroke-width="1.75" fill="none"/>
<path d="M89.90,650.40 L89.90,647.10 M89.90,650.40 L93.04,649.38 M89.90,650.40 L91.84,653.07 M89.90,650.40 L87.96,653.07 M89.90,650.40 L86.76,649.38 " stroke="#0a8a0a" stroke-width="1.75" fill="none"/>
<path d="M164.50,595.90 L164.50,592.20 M164.50,595.90 L168.02,594.76 M164.50,595.90 L166.67,598.89 M164.50,595.90 L162.33,598.89 M164.50,595.90 L160.98,594.76 " stroke="#0a8a0a" stroke-width="1.75" fill="none"/>
<path d="M243.20,580.30 L243.20,576.60 M243.20,580.30 L246.72,579.16 M243.20,580.30 L245.37,583.29 M243.20,580.30 L241.03,583.29 M243.20,580.30 L239.68,579.16 " stroke="#0a8a0a" stroke-width="1.75" fill="none"/>
<text x="351.2" y="586.6" font-size="21" font-weight="bold" text-anchor="start" fill="#000" >e</text>
<line x1="402.09999999999997" y1="717.7399999999999" x2="648.9" y2="717.7399999999999" stroke="#000" stroke-width="1.6" stroke-dasharray="1.8,3.2"/>
<line x1="397.9" y1="578.9" x2="397.9" y2="747.9" stroke="#000" stroke-width="1.7" />
<line x1="397.09999999999997" y1="747.0" x2="649.6999999999999" y2="747.0" stroke="#000" stroke-width="1.7" />
<line x1="391.09999999999997" y1="726.0999999999999" x2="397.9" y2="726.0999999999999" stroke="#000" stroke-width="1.6" />
<text x="389.09999999999997" y="730.4999999999999" font-size="12.3" font-weight="bold" text-anchor="end" fill="#000" >1</text>
<line x1="391.09999999999997" y1="705.1999999999999" x2="397.9" y2="705.1999999999999" stroke="#000" stroke-width="1.6" />
<text x="389.09999999999997" y="709.5999999999999" font-size="12.3" font-weight="bold" text-anchor="end" fill="#000" >2</text>
<line x1="391.09999999999997" y1="684.3" x2="397.9" y2="684.3" stroke="#000" stroke-width="1.6" />
<text x="389.09999999999997" y="688.6999999999999" font-size="12.3" font-weight="bold" text-anchor="end" fill="#000" >3</text>
<line x1="391.09999999999997" y1="663.4" x2="397.9" y2="663.4" stroke="#000" stroke-width="1.6" />
<text x="389.09999999999997" y="667.8" font-size="12.3" font-weight="bold" text-anchor="end" fill="#000" >4</text>
<line x1="391.09999999999997" y1="642.5" x2="397.9" y2="642.5" stroke="#000" stroke-width="1.6" />
<text x="389.09999999999997" y="646.9" font-size="12.3" font-weight="bold" text-anchor="end" fill="#000" >5</text>
<line x1="391.09999999999997" y1="621.5999999999999" x2="397.9" y2="621.5999999999999" stroke="#000" stroke-width="1.6" />
<text x="389.09999999999997" y="625.9999999999999" font-size="12.3" font-weight="bold" text-anchor="end" fill="#000" >6</text>
<line x1="391.09999999999997" y1="600.6999999999999" x2="397.9" y2="600.6999999999999" stroke="#000" stroke-width="1.6" />
<text x="389.09999999999997" y="605.0999999999999" font-size="12.3" font-weight="bold" text-anchor="end" fill="#000" >7</text>
<line x1="391.09999999999997" y1="579.8" x2="397.9" y2="579.8" stroke="#000" stroke-width="1.6" />
<text x="389.09999999999997" y="584.1999999999999" font-size="12.3" font-weight="bold" text-anchor="end" fill="#000" >8</text>
<line x1="413.7" y1="747.0" x2="413.7" y2="753.3" stroke="#000" stroke-width="1.6" />
<text x="413.7" y="768.5" font-size="12.3" font-weight="bold" text-anchor="middle" fill="#000" >2</text>
<line x1="492" y1="747.0" x2="492" y2="753.3" stroke="#000" stroke-width="1.6" />
<text x="492" y="768.5" font-size="12.3" font-weight="bold" text-anchor="middle" fill="#000" >3</text>
<line x1="570.4" y1="747.0" x2="570.4" y2="753.3" stroke="#000" stroke-width="1.6" />
<text x="570.4" y="768.5" font-size="12.3" font-weight="bold" text-anchor="middle" fill="#000" >4</text>
<line x1="648.9" y1="747.0" x2="648.9" y2="753.3" stroke="#000" stroke-width="1.6" />
<text x="648.9" y="768.5" font-size="12.3" font-weight="bold" text-anchor="middle" fill="#000" >5</text>
<text x="444.4" y="787.3" font-size="13.4" font-weight="bold" text-anchor="start" fill="#000" textLength="159" lengthAdjust="spacingAndGlyphs" >Days Post-YFV Infection</text>
<text transform="translate(371.2,662.8) rotate(-90)" text-anchor="middle" font-size="12.8" font-weight="bold" textLength="88" lengthAdjust="spacingAndGlyphs">Log<tspan font-size="9.5" dy="3">10</tspan><tspan dy="-3"> FFU/ml</tspan></text>
<line x1="413.7" y1="713.56" x2="413.7" y2="720.2479999999999" stroke="#0000c8" stroke-width="1.0" />
<line x1="409.5" y1="713.56" x2="417.9" y2="713.56" stroke="#0000c8" stroke-width="1.25" />
<line x1="409.5" y1="720.2479999999999" x2="417.9" y2="720.2479999999999" stroke="#0000c8" stroke-width="1.25" />
<line x1="492" y1="653.577" x2="492" y2="713.978" stroke="#0000c8" stroke-width="1.0" />
<line x1="487.8" y1="653.577" x2="496.2" y2="653.577" stroke="#0000c8" stroke-width="1.25" />
<line x1="487.8" y1="713.978" x2="496.2" y2="713.978" stroke="#0000c8" stroke-width="1.25" />
<line x1="570.4" y1="662.3549999999999" x2="570.4" y2="711.4699999999999" stroke="#0000c8" stroke-width="1.0" />
<line x1="566.1999999999999" y1="662.3549999999999" x2="574.6" y2="662.3549999999999" stroke="#0000c8" stroke-width="1.25" />
<line x1="566.1999999999999" y1="711.4699999999999" x2="574.6" y2="711.4699999999999" stroke="#0000c8" stroke-width="1.25" />
<polyline points="413.70,714.40 492.00,684.30 570.40,687.02 648.90,717.74" fill="none" stroke="#0000c8" stroke-width="2.1" stroke-linejoin="round"/>
<polygon points="413.70,710.44 414.82,712.86 417.47,713.17 415.51,714.98 416.03,717.60 413.70,716.30 411.37,717.60 411.89,714.98 409.93,713.17 412.58,712.86" fill="#0000c8"/>
<polygon points="492.00,680.34 493.12,682.76 495.77,683.08 493.81,684.89 494.33,687.50 492.00,686.20 489.67,687.50 490.19,684.89 488.23,683.08 490.88,682.76" fill="#0000c8"/>
<polygon points="570.40,683.06 571.52,685.48 574.17,685.79 572.21,687.60 572.73,690.22 570.40,688.92 568.07,690.22 568.59,687.60 566.63,685.79 569.28,685.48" fill="#0000c8"/>
<polygon points="648.90,713.78 650.02,716.20 652.67,716.52 650.71,718.33 651.23,720.94 648.90,719.64 646.57,720.94 647.09,718.33 645.13,716.52 647.78,716.20" fill="#0000c8"/>
<line x1="413.7" y1="677.4029999999999" x2="413.7" y2="725.055" stroke="#ff6600" stroke-width="1.0" />
<line x1="409.5" y1="677.4029999999999" x2="417.9" y2="677.4029999999999" stroke="#ff6600" stroke-width="1.25" />
<line x1="409.5" y1="725.055" x2="417.9" y2="725.055" stroke="#ff6600" stroke-width="1.25" />
<line x1="492" y1="645.217" x2="492" y2="685.7629999999999" stroke="#ff6600" stroke-width="1.0" />
<line x1="487.8" y1="645.217" x2="496.2" y2="645.217" stroke="#ff6600" stroke-width="1.25" />
<line x1="487.8" y1="685.7629999999999" x2="496.2" y2="685.7629999999999" stroke="#ff6600" stroke-width="1.25" />
<line x1="570.4" y1="652.323" x2="570.4" y2="689.107" stroke="#ff6600" stroke-width="1.0" />
<line x1="566.1999999999999" y1="652.323" x2="574.6" y2="652.323" stroke="#ff6600" stroke-width="1.25" />
<line x1="566.1999999999999" y1="689.107" x2="574.6" y2="689.107" stroke="#ff6600" stroke-width="1.25" />
<polyline points="413.70,701.02 492.00,665.49 570.40,670.71 648.90,717.74" fill="none" stroke="#ff6600" stroke-width="2.1" stroke-linejoin="round"/>
<circle cx="413.7" cy="701.02" r="4.10" fill="#ff6600"/>
<circle cx="492" cy="665.4899999999999" r="4.10" fill="#ff6600"/>
<circle cx="570.4" cy="670.7149999999999" r="4.10" fill="#ff6600"/>
<circle cx="648.9" cy="717.7399999999999" r="4.10" fill="#ff6600"/>
<polyline points="413.70,709.17 492.00,625.15 570.40,594.43 648.90,590.25" fill="none" stroke="#a00000" stroke-width="2.1" stroke-linejoin="round"/>
<polygon points="413.70,704.97 417.48,709.17 413.70,713.37 409.92,709.17" fill="#a00000"/>
<polygon points="492.00,620.95 495.78,625.15 492.00,629.35 488.22,625.15" fill="#a00000"/>
<polygon points="570.40,590.23 574.18,594.43 570.40,598.63 566.62,594.43" fill="#a00000"/>
<polygon points="648.90,586.05 652.68,590.25 648.90,594.45 645.12,590.25" fill="#a00000"/>
<line x1="413.7" y1="669.252" x2="413.7" y2="713.978" stroke="#000" stroke-width="1.0" />
<line x1="409.5" y1="669.252" x2="417.9" y2="669.252" stroke="#000" stroke-width="1.25" />
<line x1="409.5" y1="713.978" x2="417.9" y2="713.978" stroke="#000" stroke-width="1.25" />
<line x1="492" y1="610.732" x2="492" y2="680.1199999999999" stroke="#000" stroke-width="1.0" />
<line x1="487.8" y1="610.732" x2="496.2" y2="610.732" stroke="#000" stroke-width="1.25" />
<line x1="487.8" y1="680.1199999999999" x2="496.2" y2="680.1199999999999" stroke="#000" stroke-width="1.25" />
<line x1="570.4" y1="594.43" x2="570.4" y2="656.0849999999999" stroke="#000" stroke-width="1.0" />
<line x1="566.1999999999999" y1="594.43" x2="574.6" y2="594.43" stroke="#000" stroke-width="1.25" />
<line x1="566.1999999999999" y1="656.0849999999999" x2="574.6" y2="656.0849999999999" stroke="#000" stroke-width="1.25" />
<line x1="648.9" y1="613.6579999999999" x2="648.9" y2="720.875" stroke="#000" stroke-width="1.0" />
<line x1="644.6999999999999" y1="613.6579999999999" x2="653.1" y2="613.6579999999999" stroke="#000" stroke-width="1.25" />
<line x1="644.6999999999999" y1="720.875" x2="653.1" y2="720.875" stroke="#000" stroke-width="1.25" />
<polyline points="413.70,691.61 492.00,645.22 570.40,625.15 648.90,667.16" fill="none" stroke="#000" stroke-width="2.1" stroke-linejoin="round"/>
<circle cx="413.7" cy="691.6149999999999" r="4.10" fill="#000"/>
<circle cx="492" cy="645.217" r="4.10" fill="#000"/>
<circle cx="570.4" cy="625.1529999999999" r="4.10" fill="#000"/>
<circle cx="648.9" cy="667.1619999999999" r="4.10" fill="#000"/>
</svg></body></html>
